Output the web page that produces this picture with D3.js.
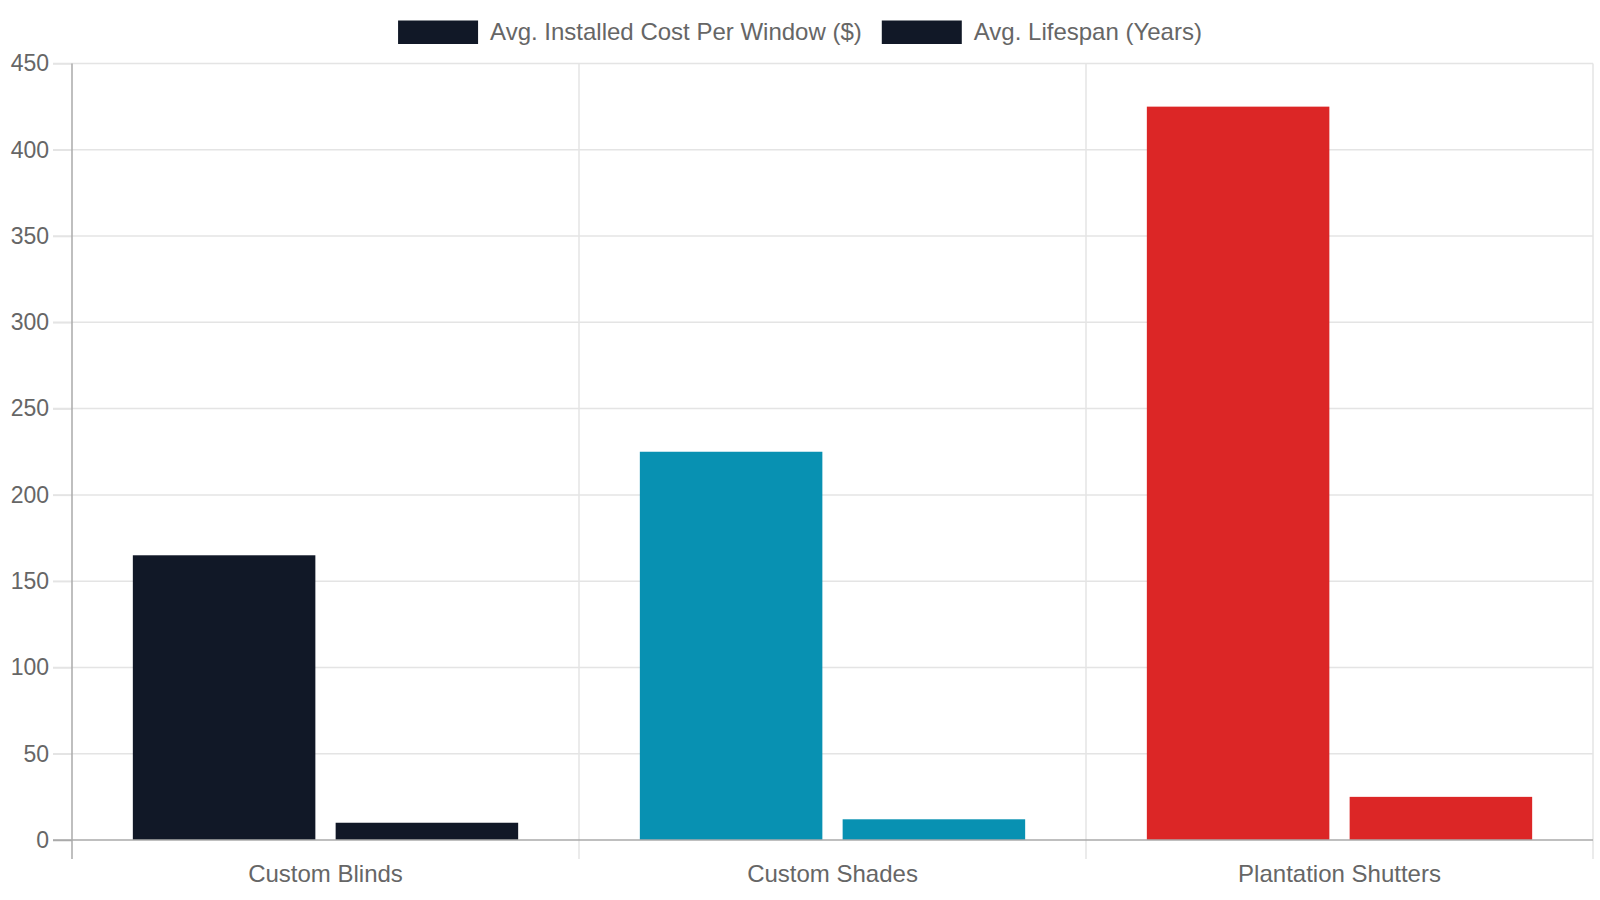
<!DOCTYPE html>
<html>
<head>
<meta charset="utf-8">
<script src="https://cdn.jsdelivr.net/npm/d3@7"></script>
<style>
	html, body { margin: 0; padding: 0; background: #fff; }
	svg { display: block; font-family: "Liberation Sans", Arial, Helvetica, sans-serif; }
</style>
</head>
<body>
<svg id="chart" width="1600" height="900"></svg>
<script>
const categories = ["Custom Blinds", "Custom Shades", "Plantation Shutters"];
const seriesNames = ["Avg. Installed Cost Per Window ($)", "Avg. Lifespan (Years)"];
const costValues = [165, 225, 425];
const lifespanValues = [10, 12, 25];
const barColors = ["#111827", "#0891b2", "#dc2626"];
const yTicks = [0, 50, 100, 150, 200, 250, 300, 350, 400, 450];

const width = 1600, height = 900;
const margin = { top: 63.5, right: 7, bottom: 60, left: 72 };
const tickLen = 19;
const textColor = "#666";
const gridColor = "#e4e4e4";
const axisColor = "#aaa";

const svg = d3.select("#chart");

const x0 = d3.scaleBand()
	.domain(categories)
	.range([margin.left, width - margin.right])
	.padding(0);

// chart.js style: 80% of category, 90% of each bar slot
const x1 = d3.scaleBand()
	.domain([0, 1])
	.range([x0.bandwidth() * 0.1, x0.bandwidth() * 0.9])
	.paddingInner(0.1)
	.paddingOuter(0.05);

const y = d3.scaleLinear()
	.domain([0, 450])
	.range([height - margin.bottom, margin.top]);

// horizontal grid
svg.append("g")
	.selectAll("line")
	.data(yTicks.filter(d => d !== 0))
	.join("line")
	.attr("x1", margin.left - tickLen)
	.attr("x2", width - margin.right)
	.attr("y1", d => y(d))
	.attr("y2", d => y(d))
	.attr("stroke", gridColor)
	.attr("stroke-width", 1.5);

// vertical category grid
const bounds = categories.map(c => x0(c)).concat([width - margin.right]);
svg.append("g")
	.selectAll("line")
	.data(bounds.slice(1))
	.join("line")
	.attr("x1", d => d)
	.attr("x2", d => d)
	.attr("y1", margin.top)
	.attr("y2", y(0) + tickLen)
	.attr("stroke", gridColor)
	.attr("stroke-width", 1.5);

// bars
const series = [costValues, lifespanValues];
const groups = svg.append("g")
	.selectAll("g")
	.data(categories)
	.join("g")
	.attr("transform", d => `translate(${x0(d)},0)`);

groups.selectAll("rect")
	.data((d, i) => series.map((s, j) => ({ k: j, v: s[i], color: barColors[i] })))
	.join("rect")
	.attr("x", d => x1(d.k))
	.attr("width", x1.bandwidth())
	.attr("y", d => y(d.v))
	.attr("height", d => y(0) - y(d.v))
	.attr("fill", d => d.color);

// y axis
const yAxis = svg.append("g")
	.attr("transform", `translate(${margin.left},0)`)
	.call(d3.axisLeft(y).tickValues(yTicks).tickSize(tickLen).tickPadding(4));
yAxis.select(".domain").remove();
yAxis.selectAll(".tick line").attr("stroke", d => d === 0 ? axisColor : gridColor).attr("stroke-width", 1.5);
yAxis.selectAll(".tick text")
	.attr("fill", textColor)
	.attr("font-size", 23)
	.attr("font-family", "Liberation Sans, Arial, sans-serif");
yAxis.append("line")
	.attr("y1", margin.top)
	.attr("y2", y(0) + tickLen)
	.attr("stroke", axisColor)
	.attr("stroke-width", 1.5);

// x axis
const xAxis = svg.append("g")
	.attr("transform", `translate(0,${y(0)})`)
	.call(d3.axisBottom(x0).tickSize(0).tickPadding(25));
xAxis.select(".domain").remove();
xAxis.selectAll(".tick text")
	.attr("fill", textColor)
	.attr("font-size", 24)
	.attr("font-family", "Liberation Sans, Arial, sans-serif");
xAxis.append("line")
	.attr("x1", margin.left - tickLen)
	.attr("x2", width - margin.right)
	.attr("stroke", axisColor)
	.attr("stroke-width", 1.5);

// legend
const boxW = 80, boxH = 23.5, boxGap = 12, itemGap = 20;
const legend = svg.append("g");
const items = legend.selectAll("g")
	.data(seriesNames)
	.join("g");
items.append("rect")
	.attr("width", boxW)
	.attr("height", boxH)
	.attr("y", 20.5)
	.attr("fill", barColors[0]);
items.append("text")
	.attr("x", boxW + boxGap)
	.attr("y", 32)
	.attr("dy", "0.35em")
	.attr("fill", textColor)
	.attr("font-size", 24)
	.text(d => d);

const widths = [];
items.each(function() {
	const w = boxW + boxGap + d3.select(this).select("text").node().getComputedTextLength();
	widths.push(w);
});
const total = d3.sum(widths) + itemGap * (widths.length - 1);
let cx = width / 2 - total / 2;
items.attr("transform", (d, i) => {
	const t = `translate(${cx},0)`;
	cx += widths[i] + itemGap;
	return t;
});
</script>
</body>
</html>
